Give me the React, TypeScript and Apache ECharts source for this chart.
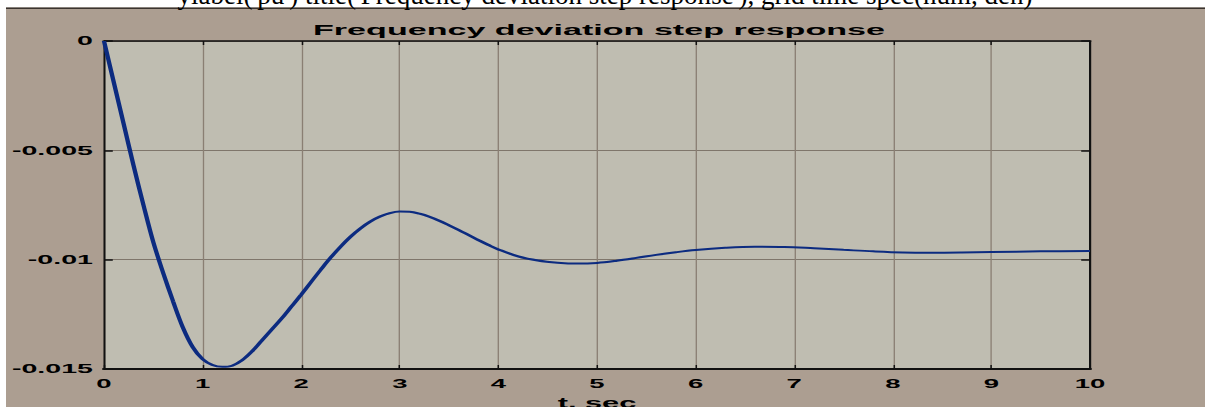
import React, { useEffect, useRef } from "react";
import * as echarts from "echarts";

// ---- data ----
const timeSec = [
  0, 0.1, 0.2, 0.3, 0.4, 0.5, 0.6, 0.7, 0.8, 0.9, 1.0, 1.1, 1.2, 1.3, 1.4, 1.5, 1.6, 1.7, 1.8, 1.9, 2.0,
  2.1, 2.2, 2.3, 2.4, 2.5, 2.6, 2.7, 2.8, 2.9, 3.0, 3.1, 3.2, 3.3, 3.4, 3.5, 3.6, 3.7, 3.8, 3.9, 4.0,
  4.2, 4.4, 4.6, 4.8, 5.0, 5.2, 5.4, 5.6, 5.8, 6.0,
  6.3, 6.6, 6.9, 7.2, 7.5, 7.8, 8.1, 8.4, 8.7, 9.0,
  9.5, 10.0,
];
const freqDeviation = [
  0, -0.0019, -0.0038, -0.0057, -0.0075, -0.0092, -0.0106, -0.0119, -0.0131, -0.014, -0.01455,
  -0.01482, -0.0149, -0.01485, -0.0146, -0.0142, -0.0137, -0.0132, -0.0127, -0.01215, -0.0116,
  -0.01102, -0.01045, -0.0099, -0.0094, -0.00895, -0.00857, -0.00826, -0.00803, -0.00787, -0.0078,
  -0.00781, -0.0079, -0.00804, -0.00822, -0.00843, -0.00865, -0.00888, -0.00911, -0.00933, -0.00953,
  -0.00985, -0.01004, -0.01014, -0.01018, -0.01015,
  -0.01005, -0.00992, -0.00978, -0.00966, -0.00956,
  -0.00946, -0.00941, -0.00942, -0.00948, -0.00955, -0.00962, -0.00967, -0.00968, -0.00967, -0.00965,
  -0.00962, -0.0096,
];
const xTickValues = [0, 1, 2, 3, 4, 5, 6, 7, 8, 9, 10];
const yTickValues = [-0.015, -0.01, -0.005, 0];
const yTickLabels = ["-0.015", "-0.01", "-0.005", "0"];
const chartTitle = "Frequency deviation step response";
const xAxisName = "t, sec";
const headerText = "ylabel('pu') title('Frequency deviation step response'), grid time spec(num, den)";

const W = 1205;
const H = 407;
const S = 2.2; // horizontal stretch of the reference image

export default function App() {
  const ref = useRef<HTMLDivElement>(null);

  useEffect(() => {
    if (!ref.current) return;
    const chart = echarts.init(ref.current, null, { renderer: "svg", width: W / S, height: H });
    const labelFont = {
      color: "#000",
      fontWeight: "bold" as const,
      fontFamily: "Liberation Sans, Arial, sans-serif",
      fontSize: 12.5,
    };
    chart.setOption({
      animation: false,
      backgroundColor: "#ac9e91",
      title: {
        text: chartTitle,
        left: 588 / S,
        top: 17,
        textAlign: "center",
        textStyle: {
          color: "#000",
          fontWeight: "bold",
          fontFamily: "Liberation Sans, Arial, sans-serif",
          fontSize: 15.5,
        },
      },
      graphic: [
        { type: "rect", z: 100, shape: { x: 0, y: 0, width: W / S, height: 7.5 }, style: { fill: "#ffffff" } },
        { type: "rect", z: 100, shape: { x: 0, y: 0, width: 6 / S, height: H }, style: { fill: "#ffffff" } },
        { type: "rect", z: 101, shape: { x: 6 / S, y: 7.5, width: W / S, height: 1.6 }, style: { fill: "#3a342f" } },
        {
          type: "text",
          z: 102,
          x: 605 / S,
          y: 8,
          scaleX: 1 / S,
          style: {
            text: headerText,
            fill: "#000",
            font: "27px 'Liberation Serif', 'Times New Roman', serif",
            textAlign: "center",
            textVerticalAlign: "bottom",
          },
        },
      ],
      grid: {
        left: 104 / S,
        right: (W - 1090) / S,
        top: 41,
        bottom: 38,
        show: true,
        backgroundColor: "#bfbdb1",
        borderWidth: 0,
        containLabel: false,
        outerBoundsMode: "none",
      },
      xAxis: [
        {
          type: "value",
          position: "bottom",
          min: 0,
          max: 10,
          interval: 1,
          name: xAxisName,
          nameLocation: "middle",
          nameGap: 27,
          nameTextStyle: { ...labelFont, fontSize: 14 },
          axisLine: { show: true, onZero: false, lineStyle: { color: "#111", width: 2 } },
          axisTick: { show: true, inside: true, length: 4, lineStyle: { color: "#111", width: 1.5 / S } },
          axisLabel: {
            ...labelFont,
            margin: 8,
            formatter: (v: number) => (xTickValues.includes(v) ? String(v) : ""),
          },
          splitLine: { show: true, lineStyle: { color: "#8a7f73", width: 0.6 } },
        },
        {
          type: "value",
          position: "top",
          min: 0,
          max: 10,
          interval: 1,
          axisLine: { show: true, onZero: false, lineStyle: { color: "#111", width: 1.6 } },
          axisTick: { show: true, inside: true, length: 4, lineStyle: { color: "#111", width: 1.5 / S } },
          axisLabel: { show: false },
          splitLine: { show: false },
        },
      ],
      yAxis: [
        {
          type: "value",
          position: "left",
          min: -0.015,
          max: 0,
          interval: 0.005,
          axisLine: { show: true, onZero: false, lineStyle: { color: "#111", width: 2 / S } },
          axisTick: { show: true, inside: true, length: 4, lineStyle: { color: "#111", width: 1.5 } },
          axisLabel: {
            ...labelFont,
            fontSize: 13,
            margin: 5,
            formatter: (v: number) => {
              const i = yTickValues.findIndex((t) => Math.abs(t - v) < 1e-9);
              return i >= 0 ? yTickLabels[i] : "";
            },
          },
          splitLine: { show: true, lineStyle: { color: "#7f766b", width: 1 } },
        },
        {
          type: "value",
          position: "right",
          min: -0.015,
          max: 0,
          interval: 0.005,
          axisLine: { show: true, onZero: false, lineStyle: { color: "#111", width: 2.2 / S } },
          axisTick: { show: true, inside: true, length: 4, lineStyle: { color: "#111", width: 1.5 } },
          axisLabel: { show: false },
          splitLine: { show: false },
        },
      ],
      series: [
        {
          type: "line",
          xAxisIndex: 0,
          yAxisIndex: 0,
          data: timeSec.map((t, i) => [t, freqDeviation[i]]),
          showSymbol: false,
          smooth: 0.35,
          lineStyle: { color: "#0c2b80", width: 2 },
          z: 5,
        },
      ],
    });
    return () => chart.dispose();
  }, []);

  return (
    <div
      style={{
        position: "fixed",
        left: 0,
        top: 0,
        width: W,
        height: H,
        background: "#ffffff",
        overflow: "hidden",
      }}
    >
      <div
        ref={ref}
        style={{
          width: W / S,
          height: H,
          transform: `scaleX(${S})`,
          transformOrigin: "0 0",
        }}
      />
    </div>
  );
}
